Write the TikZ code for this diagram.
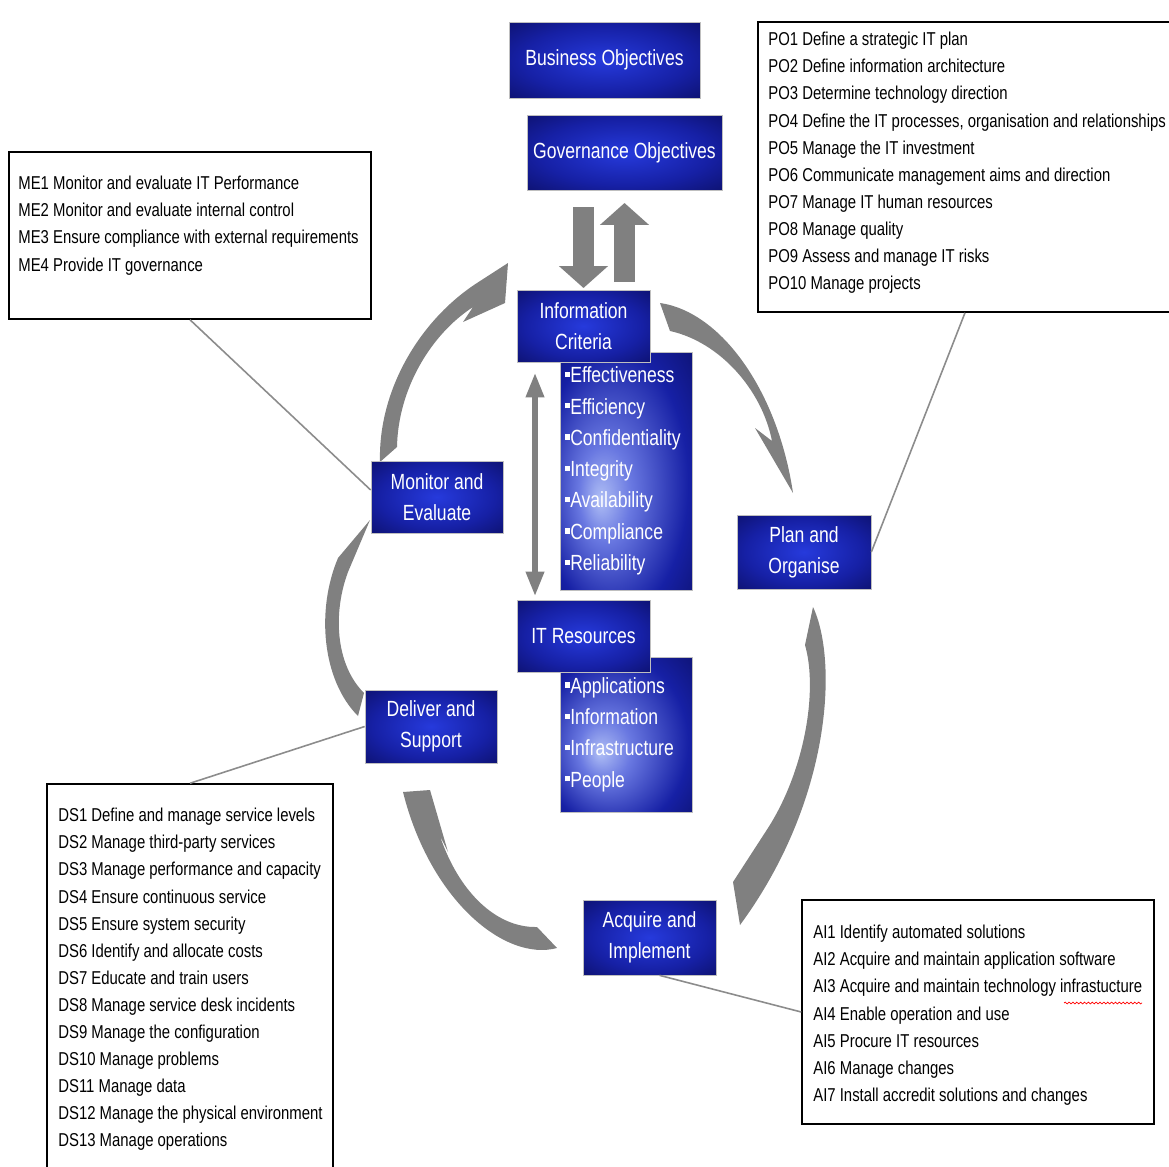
\documentclass[tikz,border=0pt]{standalone}
\usepackage{fontspec}
\setmainfont{Liberation Sans}[FakeStretch=0.8]
\usepackage{tikz}
\usetikzlibrary{arrows.meta, decorations.pathmorphing}
\definecolor{cobitNavy}{RGB}{10,12,92}
\definecolor{cobitMid}{RGB}{22,32,165}
\definecolor{cobitBright}{RGB}{38,58,220}
\definecolor{glowPale}{RGB}{175,190,245}
\definecolor{glowSoft}{RGB}{105,120,225}
\definecolor{arrowGray}{RGB}{128,128,128}
\definecolor{lineGray}{RGB}{140,140,140}
\pgfdeclareradialshading{boxglow}{\pgfpoint{0bp}{0bp}}{color(0bp)=(cobitBright); color(22bp)=(cobitMid); color(42bp)=(cobitNavy); color(50bp)=(cobitNavy)}
\pgfdeclareradialshading{listglow}{\pgfpoint{-10bp}{-6bp}}{color(0bp)=(glowPale); color(10bp)=(glowSoft); color(28bp)=(cobitMid); color(45bp)=(cobitNavy); color(50bp)=(cobitNavy)}
\newcommand{\sqbullet}{\rule[0.26em]{0.24em}{0.24em}}

\begin{document}
\begin{tikzpicture}[
  x=0.02cm, y=-0.02cm,
  phase/.style={shading=boxglow, draw=black!25, line width=0.4pt, text=white, align=center, inner sep=0pt, font=\fontsize{12.5}{17.5}\selectfont},
  items/.style={shading=listglow, draw=black!25, line width=0.4pt, text=white, align=left, inner xsep=0.1cm, text width=2.44cm, font=\fontsize{12.5}{17.8}\selectfont},
  listbox/.style={draw, line width=0.9pt, fill=white},
  listtext/.style={anchor=north west, align=left, inner sep=0pt, font=\fontsize{10.6}{15.4}\selectfont},
  link/.style={draw=lineGray, line width=0.9pt},
  blockarrow/.style={draw=arrowGray, line width=0.42cm, -{Triangle[width=0.96cm, length=0.44cm]}},
  swoosh/.style={fill=arrowGray},
  >=Latex
]
  \fill[white] (0,0) rectangle (1169,1166);
  \useasboundingbox (0,0) rectangle (1169,1166);

  % Curved arrows of the cycle
  \fill[swoosh] (380,462) .. controls (378,390) and (420,320) .. (477,283) -- (508,263) -- (505,303) -- (463,322) -- (473,307) .. controls (430,335) and (398,390) .. (397,447) -- cycle;
  \fill[swoosh] (660,303) .. controls (722,312) and (778,392) .. (793,493) -- (755,428) -- (772,441) .. controls (762,390) and (720,342) .. (670,331) -- cycle;
  \fill[swoosh] (813,607) .. controls (838,660) and (832,800) .. (740,925) -- (733,882) -- (768,828) .. controls (805,770) and (818,690) .. (805,645) -- cycle;
  \fill[swoosh] (557,948) .. controls (505,962) and (430,900) .. (403,792) -- (430,790) -- (448,852) -- (440,836) .. controls (458,890) and (495,928) .. (537,927) -- cycle;
  \fill[swoosh] (358,716) .. controls (322,680) and (316,610) .. (338,558) -- (370,520) -- (348,572) .. controls (333,612) and (335,664) .. (364,693) -- cycle;

  % Objectives
  \node[phase, minimum width=3.82cm, minimum height=1.52cm] at (604.5,60)  (bo) {Business Objectives};
  \node[phase, minimum width=3.9cm,  minimum height=1.5cm]  at (624.5,152.5) (go) {Governance Objectives};

  % Criteria and resources
  \node[items, minimum height=4.76cm] at (626,471) (crit) {\sqbullet Effectiveness\\\sqbullet Efficiency\\\sqbullet Confidentiality\\\sqbullet Integrity\\\sqbullet Availability\\\sqbullet Compliance\\\sqbullet Reliability};
  \node[items, minimum height=3.1cm]  at (626,734.5) (res) {\sqbullet Applications\\\sqbullet Information\\\sqbullet Infrastructure\\\sqbullet People};
  \node[phase, minimum width=2.66cm, minimum height=1.44cm] at (583.5,326) (ic)  {Information\\Criteria};
  \node[phase, minimum width=2.66cm, minimum height=1.44cm] at (583.5,636) (itr) {IT Resources};

  % Domains
  \node[phase, minimum width=2.64cm, minimum height=1.44cm] at (437,497)     (me) {Monitor and\\Evaluate};
  \node[phase, minimum width=2.68cm, minimum height=1.48cm] at (804,552)     (po) {Plan and\\Organise};
  \node[phase, minimum width=2.64cm, minimum height=1.46cm] at (431,726.5)   (ds) {Deliver and\\Support};
  \node[phase, minimum width=2.66cm, minimum height=1.5cm]  at (649.5,937.5) (ai) {Acquire and\\Implement};

  \draw[blockarrow] (ic.north |- 0,207) -- (ic.north |- 0,288);
  \draw[blockarrow] (go.south |- 0,282) -- (go.south |- 0,203);
  \draw[draw=arrowGray, line width=0.13cm, {Triangle[width=0.34cm, length=0.5cm]}-{Triangle[width=0.34cm, length=0.5cm]}, shorten <=0.2cm, shorten >=0.06cm] ([xshift=-0.97cm]ic.south) -- ([xshift=-0.97cm]itr.north);

  % Process lists
  \node[listbox, minimum width=7.24cm, minimum height=3.34cm] at (190,235.5) (mebox) {};
  \node[listtext] at (18,176) (metext) {ME1 Monitor and evaluate IT Performance\\ME2 Monitor and evaluate internal control\\ME3 Ensure compliance with external requirements\\ME4 Provide IT governance};
  \node[listbox, minimum width=8.28cm, minimum height=5.8cm] at (965,167) (pobox) {};
  \node[listtext] at (768,32) (potext) {PO1 Define a strategic IT plan\\PO2 Define information architecture\\PO3 Determine technology direction\\PO4 Define the IT processes, organisation and relationships\\PO5 Manage the IT investment\\PO6 Communicate management aims and direction\\PO7 Manage IT human resources\\PO8 Manage quality\\PO9 Assess and manage IT risks\\PO10 Manage projects};
  \node[listbox, minimum width=5.72cm, minimum height=7.76cm] at (190,978) (dsbox) {};
  \node[listtext] at (58,808) (dstext) {DS1 Define and manage service levels\\DS2 Manage third-party services\\DS3 Manage performance and capacity\\DS4 Ensure continuous service\\DS5 Ensure system security\\DS6 Identify and allocate costs\\DS7 Educate and train users\\DS8 Manage service desk incidents\\DS9 Manage the configuration\\DS10 Manage problems\\DS11 Manage data\\DS12 Manage the physical environment\\DS13 Manage operations};
  \node[listbox, minimum width=7.04cm, minimum height=4.48cm] at (978,1012) (aibox) {};
  \node[listtext] at (813,925) (aitext) {AI1 Identify automated solutions\\AI2 Acquire and maintain application software\\AI3 Acquire and maintain technology infrastucture\\AI4 Enable operation and use\\AI5 Procure IT resources\\AI6 Manage changes\\AI7 Install accredit solutions and changes};
  \draw[red, line width=0.4pt, decorate, decoration={snake, amplitude=0.5pt, segment length=2.2pt}] (1064,1003) -- (1142,1003);

  \draw[link] (mebox.south) -- ([yshift=0.14cm]me.west);
  \draw[link] (pobox.south) -- (po.east);
  \draw[link] (ds.west) -- (dsbox.north);
  \draw[link] ([xshift=0.2cm]ai.south) -- (aibox.west);
\end{tikzpicture}
\end{document}
